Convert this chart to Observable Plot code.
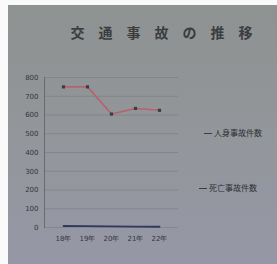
<!DOCTYPE html>
<html><head><meta charset="utf-8">
<script src="https://cdn.jsdelivr.net/npm/d3@7"></script>
<script src="https://cdn.jsdelivr.net/npm/@observablehq/plot@0.6"></script>
<style>
html,body{margin:0;padding:0;background:#fafafa;}
#wrap{position:absolute;left:8px;top:5px;width:269px;height:259px;
  background:linear-gradient(180deg,#8e9291 0%,#93969a 50%,#9597a6 100%);overflow:hidden;}
#title{position:absolute;left:52px;top:17px;width:217px;text-align:center;
  font-family:"Noto Sans CJK JP",serif;font-weight:700;font-size:14px;letter-spacing:14px;color:#3b3d3f;}
#plot{position:absolute;left:0;top:0;}
.leg{position:absolute;font-family:"Noto Sans CJK JP",sans-serif;font-size:8px;color:#2e3035;white-space:nowrap;}
.leg span{display:inline-block;width:8px;height:1px;vertical-align:middle;margin-right:2px;}
</style></head>
<body>
<div id="wrap">
  <div id="title">交通事故の推移</div>
  <div id="plot"></div>
  <div class="leg" style="left:196px;top:122px;"><span style="background:#3a3c48"></span>人身事故件数</div>
  <div class="leg" style="left:191px;top:177px;"><span style="background:#3a3c48"></span>死亡事故件数</div>
</div>
<script>
const years = ["18年","19年","20年","21年","22年"];
const injuryAccidents = [750, 750, 605, 635, 625];
const fatalAccidents = [8, 7, 6, 5, 4];
const yTicks = [0,100,200,300,400,500,600,700,800];

const rows = [];
years.forEach((y,i)=>{
  rows.push({year:y, value:injuryAccidents[i], series:"人身事故件数"});
  rows.push({year:y, value:fatalAccidents[i], series:"死亡事故件数"});
});

const chart = Plot.plot({
  width: 269, height: 259,
  marginLeft: 36, marginRight: 99, marginTop: 72, marginBottom: 37,
  style: {background: "transparent", fontFamily: "DejaVu Sans", fontSize: "7px", color: "#34363a"},
  x: {type: "point", domain: years, padding: 0.7, label: null, tickSize: 0, tickPadding: 9},
  y: {domain: [0, 800], ticks: yTicks, label: null, tickSize: 0, tickPadding: 6},
  marks: [
    Plot.gridY(yTicks, {stroke: "#6f7476", strokeOpacity: 0.45, strokeWidth: 1}),
    Plot.frame({anchor: "left", stroke: "#5c6064", strokeOpacity: 0.8}),
    Plot.line(rows.filter(d=>d.series==="人身事故件数"), {x: "year", y: "value", stroke: "#b9606c", strokeWidth: 1.6}),
    Plot.line(rows.filter(d=>d.series==="死亡事故件数"), {x: "year", y: "value", stroke: "#343860", strokeWidth: 1.8}),
    Plot.dot(rows.filter(d=>d.series==="人身事故件数"), {x: "year", y: "value", symbol: "square", r: 1.8, fill: "#3c3c44"})
  ]
});
document.getElementById("plot").appendChild(chart);
</script>
</body></html>
